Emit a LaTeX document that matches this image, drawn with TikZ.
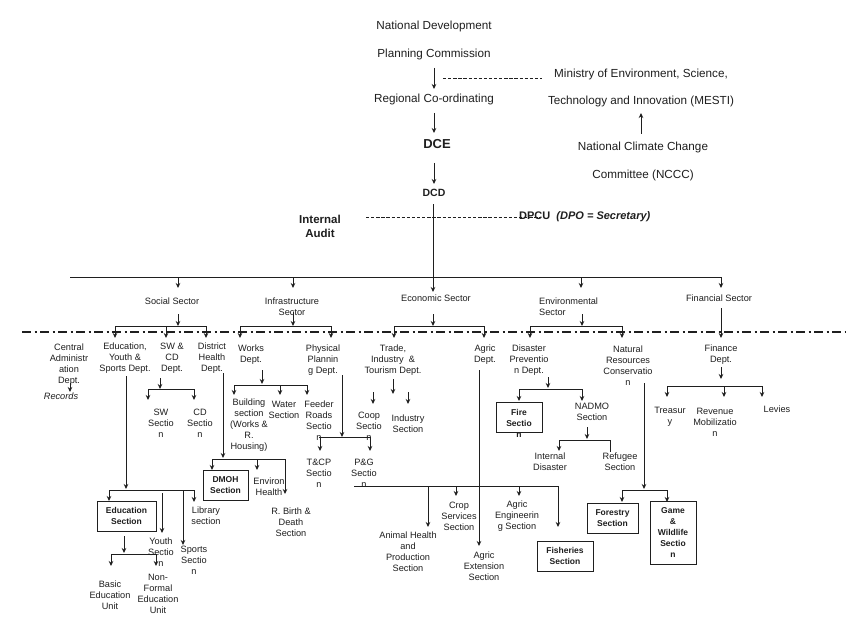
\documentclass[tikz,border=0pt]{standalone}
\usepackage{fontspec}
\setmainfont{Liberation Sans}
\usetikzlibrary{arrows.meta}
\definecolor{ink}{gray}{0.12}
\begin{document}
\begin{tikzpicture}[x=1pt,y=-1pt,
  every node/.style={inner sep=0pt, align=center, text=ink},
  t/.style={font=\fontsize{9.2}{11}\selectfont},
  big/.style={font=\fontsize{11.7}{14}\selectfont},
  bx/.style={draw=ink, line width=1pt, font=\bfseries\fontsize{8.5}{11}\selectfont},
  bt/.style={font=\bfseries\fontsize{8.5}{11}\selectfont},
  ln/.style={draw=ink, line width=0.8pt},
  arr/.style={ln, -{Stealth[length=5pt,width=4.5pt]}},
  dsh/.style={draw=ink, line width=0.9pt, dash pattern=on 3.3pt off 1.8pt},
  dashdot/.style={draw=ink, line width=1.4pt, dash pattern=on 9pt off 3.5pt on 2pt off 3.5pt},
]
\useasboundingbox[fill=white] (0,0) rectangle (846,623);

% ---------- top ----------
\node[font=\fontsize{11.7}{28}\selectfont] (ndpc) at (434,40) {National Development\\Planning Commission};
\node[font=\fontsize{11.7}{27}\selectfont] (mesti) at (641,87.5) {Ministry of Environment, Science,\\Technology and Innovation (MESTI)};
\node[big] (rco) at (434,99) {Regional Co-ordinating};
\node[font=\fontsize{11.7}{28}\selectfont] (nccc) at (643,161) {National Climate Change\\Committee (NCCC)};
\node[font=\bfseries\fontsize{13}{15}\selectfont] (dce) at (437,144) {DCE};
\node[font=\bfseries\fontsize{10.5}{12}\selectfont] (dcd) at (434,193) {DCD};
\node[font=\bfseries\fontsize{11.5}{14}\selectfont] (ia) at (320,226) {Internal\\Audit};

\coordinate (ndpcS) at (434,68);  \coordinate (rcoN) at (434,89);
\coordinate (rcoS)  at (434,113); \coordinate (dceN) at (434,133);
\coordinate (dceS)  at (434,163); \coordinate (dcdN) at (434,184);
\coordinate (dcdS)  at (433,204); \coordinate (ecoN) at (433,292);
\coordinate (ncccN) at (641,134); \coordinate (mestiS) at (641,113);
\coordinate (dashA) at (443,78);  \coordinate (dashB) at (542,78);
\coordinate (iaE)   at (366,217); \coordinate (dpcuW) at (540,217);

\draw[arr] (ndpcS) -- (rcoN);
\draw[arr] (rcoS) -- (dceN);
\draw[arr] (dceS) -- (dcdN);
\draw[arr] (ncccN) -- (mestiS);
\draw[dsh] (dashA) -- (dashB);
\draw[dsh] (iaE) -- (dpcuW);
\node[anchor=west, font=\bfseries\fontsize{11}{13}\selectfont] (dpcu) at (519,217) {DPCU\ \ \textit{(DPO = Secretary)}};
\draw[arr] (dcdS) -- (ecoN);

% ---------- sectors ----------
\coordinate (hL) at (70,277); \coordinate (hR) at (721,277);
\draw[ln] (hL) -- (hR);
\node[t] (soc) at (172,301) {Social Sector};
\node[t] (inf) at (292,306.5) {Infrastructure\\Sector};
\node[t] (eco) at (436,298) {Economic Sector};
\node[t, anchor=west, align=left] (env) at (539,306.5) {Environmental\\Sector};
\node[t] (fin) at (719,298) {Financial Sector};
\foreach \x/\n in {178/soc,293/inf,581/env,721/fin}{
  \coordinate (top\n) at (\x,277); \coordinate (tip\n) at (\x,288);
  \draw[arr] (top\n) -- (tip\n);
}

\draw[dashdot] (22,332) -- (846,332);

% sector -> dept brackets
\coordinate (socA) at (178,314); \coordinate (socB) at (178,326);
\draw[arr] (socA) -- (socB);
\draw[ln] (115,326) -- (206,326);
\foreach \x in {115,166,206} \draw[arr] (\x,326) -- (\x,338);

\coordinate (infA) at (293,312); \coordinate (infB) at (293,326);
\draw[arr] (infA) -- (infB);
\draw[ln] (240,326) -- (331,326);
\foreach \x in {240,331} \draw[arr] (\x,326) -- (\x,338);

\coordinate (ecoA) at (433,314); \coordinate (ecoB) at (433,326);
\draw[arr] (ecoA) -- (ecoB);
\draw[ln] (394,326) -- (484,326);
\foreach \x in {394,484} \draw[arr] (\x,326) -- (\x,338);

\coordinate (envA) at (582,314); \coordinate (envB) at (582,326);
\draw[arr] (envA) -- (envB);
\draw[ln] (530,326) -- (622,326);
\foreach \x in {530,622} \draw[arr] (\x,326) -- (\x,338);

\coordinate (finA) at (721,308); \coordinate (finB) at (721,338);
\draw[arr] (finA) -- (finB);

% ---------- social ----------
\node[t] (cad) at (69,364.5) {Central\\Administr\\ation\\Dept.};
\draw[arr] (70,383) -- (70,392);
\node[t, font=\itshape\fontsize{9.2}{11}\selectfont] (rec) at (61,396) {Records};
\node[t] (edu) at (125,358) {Education,\\Youth \&\\Sports Dept.};
\node[t] (swcd) at (172,358) {SW \&\\CD\\Dept.};
\node[t] (dh) at (212,358) {District\\Health\\Dept.};

\draw[arr] (160,378) -- (160,389);
\draw[ln] (148,389) -- (194,389);
\foreach \x in {148,194} \draw[arr] (\x,389) -- (\x,400);
\node[t] (sws) at (161,423) {SW\\Sectio\\n};
\node[t] (cds) at (200,423) {CD\\Sectio\\n};

\draw[arr] (126,376) -- (126,489);
\draw[ln] (109,490) -- (194,490);
\draw[arr] (109,490) -- (109,501);
\draw[arr] (194,490) -- (194,502);
\draw[arr] (162,493) -- (162,533);
\draw[arr] (183,490) -- (183,545);
\node[bx, minimum width=59pt, minimum height=30pt] (edub) at (126.5,516) {Education\\Section};
\node[t] (lib) at (206,516) {Library\\section};
\node[t] (yth) at (161,552) {Youth\\Sectio\\n};
\node[t] (spt) at (194,560) {Sports\\Sectio\\n};
\draw[arr] (124,536) -- (124,553);
\draw[ln] (111,554) -- (156,554);
\foreach \x in {111,156} \draw[arr] (\x,554) -- (\x,566);
\node[t] (beu) at (110,595) {Basic\\Education\\Unit};
\node[t] (nfe) at (158,593.5) {Non-\\Formal\\Education\\Unit};

\draw[arr] (223,373) -- (223,458);
\draw[ln] (212,459) -- (285,459);
\draw[arr] (212,459) -- (212,470);
\draw[arr] (257,459) -- (257,470);
\draw[arr] (285,459) -- (285,494);
\node[bx, minimum width=45pt, minimum height=30pt] (dmoh) at (225.5,485) {DMOH\\Section};
\node[t] (envh) at (269,486.5) {Environ\\Health};
\node[t] (rbd) at (291,522) {R. Birth \&\\Death\\Section};

% ---------- infrastructure ----------
\node[t] (wrk) at (251,354.5) {Works\\Dept.};
\node[t] (phy) at (323,360) {Physical\\Plannin\\g Dept.};
\draw[arr] (262,370) -- (262,384);
\draw[ln] (234,385) -- (307,385);
\foreach \x in {234,280,307} \draw[arr] (\x,385) -- (\x,395);
\node[t] (bld) at (249,425.5) {Building\\section\\(Works \&\\R.\\Housing)};
\node[t] (wat) at (284,409.5) {Water\\Section};
\node[t] (frd) at (319,420.5) {Feeder\\Roads\\Sectio\\n};
\draw[arr] (342,375) -- (342,437);
\draw[ln] (319,437) -- (370,437);
\foreach \x in {320,370} \draw[arr] (\x,437) -- (\x,451);
\node[t] (tcp) at (319,473) {T\&CP\\Sectio\\n};
\node[t] (pg) at (364,473) {P\&G\\Sectio\\n};

% ---------- economic ----------
\node[t] (trd) at (393,360) {Trade,\\Industry \ \&\\Tourism Dept.};
\node[t] (agd) at (485,354.5) {Agric\\Dept.};
\draw[arr] (393,379) -- (393,394);
\draw[arr] (373,392) -- (373,404);
\draw[arr] (408,392) -- (408,404);
\node[t] (coop) at (369,426.5) {Coop\\Sectio\\n};
\node[t] (ind) at (408,423.5) {Industry\\Section};

\draw[ln] (354,486) -- (558,486);
\draw[arr] (558,486) -- (558,527);
\draw[arr] (428,486) -- (428,527);
\draw[arr] (456,486) -- (456,496);
\draw[arr] (519,486) -- (519,496);
\draw[arr] (479,370) -- (479,546);
\node[t] (ahp) at (408,552) {Animal Health\\and\\Production\\Section};
\node[t] (crp) at (459,516) {Crop\\Services\\Section};
\node[t] (aeng) at (517,516) {Agric\\Engineerin\\g Section};
\node[t] (aext) at (484,566) {Agric\\Extension\\Section};
\node[bx, minimum width=56pt, minimum height=30pt] (fish) at (565,556) {Fisheries\\Section};

% ---------- environmental ----------
\node[t] (dis) at (529,360) {Disaster\\Preventio\\n Dept.};
\node[t] (nrc) at (628,365.5) {Natural\\Resources\\Conservatio\\n};
\draw[arr] (548,377) -- (548,388);
\draw[ln] (519,389) -- (582,389);
\foreach \x in {519,582} \draw[arr] (\x,389) -- (\x,401);
\node[draw=ink, line width=1pt, minimum width=46pt, minimum height=30pt] (fireb) at (519,417) {};
\node[bt] (fire) at (519,423) {Fire\\Sectio\\n};
\node[t] (nad) at (592,411.5) {NADMO\\Section};
\draw[arr] (587,427) -- (587,439);
\draw[ln] (559,440) -- (610,440) -- (610,452);
\draw[arr] (559,440) -- (559,451);
\node[t] (intd) at (550,461.5) {Internal\\Disaster};
\node[t] (ref) at (620,461.5) {Refugee\\Section};
\draw[arr] (644,383) -- (644,489);
\draw[ln] (622,490) -- (667,490);
\foreach \x in {622,667} \draw[arr] (\x,490) -- (\x,502);
\node[bx, minimum width=51pt, minimum height=30pt] (frs) at (612.5,518) {Forestry\\Section};
\node[bx, minimum width=46pt, minimum height=63pt] (gws) at (673,532.5) {Game\\\&\\Wildlife\\Sectio\\n};

% ---------- financial ----------
\node[t] (fnd) at (721,354.5) {Finance\\Dept.};
\draw[arr] (721,367) -- (721,379);
\draw[ln] (667,386) -- (762,386);
\foreach \x in {667,724,762} \draw[arr] (\x,386) -- (\x,397);
\node[t] (trs) at (670,416.5) {Treasur\\y};
\node[t] (rev) at (715,422) {Revenue\\Mobilizatio\\n};
\node[t] (lev) at (777,409) {Levies};
\end{tikzpicture}
\end{document}
